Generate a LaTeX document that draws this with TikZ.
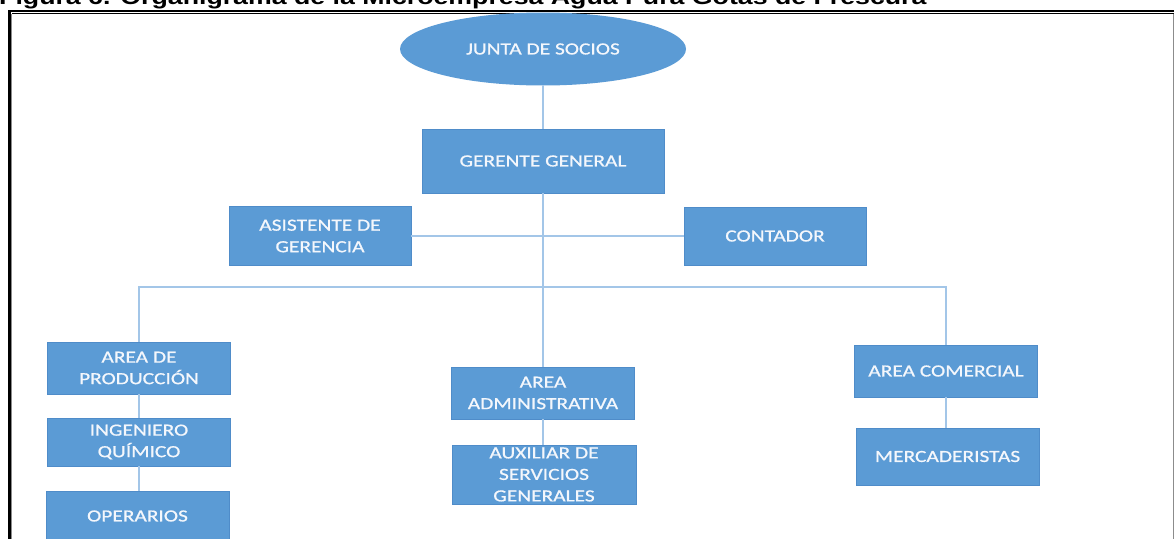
\documentclass[tikz,border=0pt]{standalone}
\usepackage{fontspec}
\setmainfont{Carlito}
\newfontfamily\boxfont[FakeStretch=1.26,FakeBold=0.8]{Carlito}
\newfontfamily\titlefont[FakeStretch=1.26]{Liberation Sans}
\usetikzlibrary{shapes.geometric}
\definecolor{boxblue}{HTML}{5B9BD5}
\definecolor{boxedge}{HTML}{4F8CC9}
\definecolor{linkblue}{HTML}{A3C6E8}
\definecolor{framegray}{HTML}{8C8C8C}
\definecolor{boxtext}{HTML}{F4F7FC}
\tikzset{
  orgbox/.style={rectangle, fill=boxblue, draw=boxedge, line width=0.8pt, inner sep=0pt,
    align=center, text=boxtext, font=\boxfont\fontsize{17}{21.5}\selectfont},
  orgoval/.style={ellipse, fill=boxblue, draw=none, inner sep=0pt,
    text=boxtext, font=\boxfont\fontsize{17}{21.5}\selectfont},
  link/.style={draw=linkblue, line width=1.2pt}
}
\begin{document}
\begin{tikzpicture}[x=1pt,y=-1pt]
\useasboundingbox (0,0) rectangle (1174,538);
\clip (0,0) rectangle (1174,538);
\fill[white] (0,0) rectangle (1174,538);
% title (cut at top, as in the reference)
\node[anchor=base west, inner sep=0pt, font=\titlefont\bfseries\fontsize{21.2}{24}\selectfont] (title) at (-1,4.5)
  {Figura 6. Organigrama de la Microempresa Agua Pura Gotas de Frescura};
% frame
\draw[black, line width=2.5pt] (9.5,560) -- (9.5,10.8) -- (1180,10.8);
\draw[black, line width=1pt] (12,13.6) -- (1180,13.6);
\draw[framegray, line width=1pt] (11.8,560) -- (11.8,13.6);
\draw[framegray, line width=1pt] (1173,13.6) -- (1173,560);
% nodes
\node[orgoval, minimum width=286, minimum height=73] (js) at (543,49) {JUNTA DE SOCIOS};
\node[orgbox, minimum width=242, minimum height=64] (gg) at (543,161) {GERENTE GENERAL};
\node[orgbox, minimum width=182, minimum height=59] (as) at (320,236) {ASISTENTE DE\\GERENCIA};
\node[orgbox, minimum width=182, minimum height=58] (co) at (775,236) {CONTADOR};
\node[orgbox, minimum width=183, minimum height=52] (ap) at (139,368) {AREA DE\\PRODUCCIÓN};
\node[orgbox, minimum width=183, minimum height=48] (iq) at (139,442) {INGENIERO\\QUÍMICO};
\node[orgbox, minimum width=183, minimum height=50] (op) at (137.5,516) {OPERARIOS};
\node[orgbox, minimum width=183, minimum height=52] (aa) at (543,393) {AREA\\ADMINISTRATIVA};
\node[orgbox, minimum width=184, minimum height=59] (ax) at (544,474.5) {AUXILIAR DE\\SERVICIOS\\GENERALES};
\node[orgbox, minimum width=183, minimum height=52] (ac) at (946,371) {AREA COMERCIAL};
\node[orgbox, minimum width=183, minimum height=57] (me) at (947.5,456.5) {MERCADERISTAS};
\coordinate (bl) at (139,287);
\coordinate (br) at (946,287);
% connectors
\draw[link] (js.south) -- (gg.north);
\draw[link] (gg.south) -- (gg.south |- aa.north);
\draw[link] (as.east) -- (co.west);
\draw[link] (ap.north) -- (bl) -- (br) -- (ac.north);
\draw[link] (ap.south) -- (iq.north);
\draw[link] (iq.south) -- (iq.south |- op.north);
\draw[link] (aa.south) -- (aa.south |- ax.north);
\draw[link] (ac.south) -- (ac.south |- me.north);
\end{tikzpicture}
\end{document}
